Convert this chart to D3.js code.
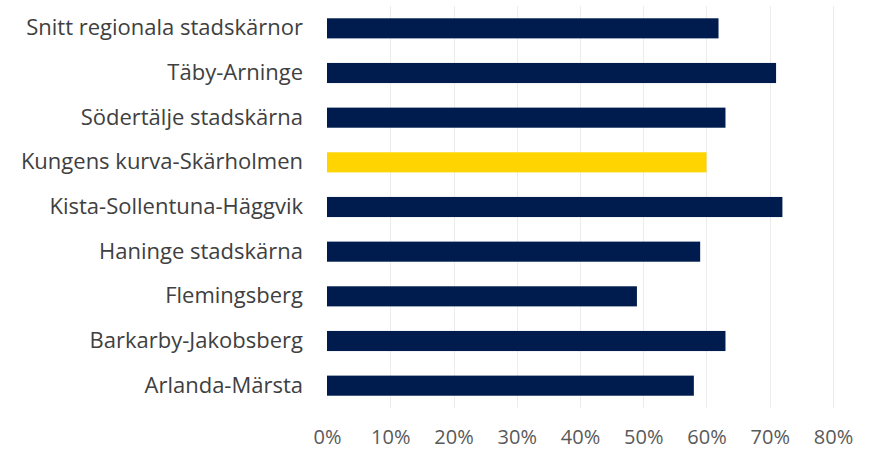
<!DOCTYPE html>
<html>
<head>
<meta charset="utf-8">
<script src="https://cdn.jsdelivr.net/npm/d3@7"></script>
<style>
  body { margin: 0; background: #fff; }
</style>
</head>
<body>
<div id="chart"></div>
<script>
const categories = [
  "Snitt regionala stadskärnor",
  "Täby-Arninge",
  "Södertälje stadskärna",
  "Kungens kurva-Skärholmen",
  "Kista-Sollentuna-Häggvik",
  "Haninge stadskärna",
  "Flemingsberg",
  "Barkarby-Jakobsberg",
  "Arlanda-Märsta"
];
const values = [0.619, 0.71, 0.63, 0.60, 0.72, 0.59, 0.49, 0.63, 0.58];
const highlighted = ["Kungens kurva-Skärholmen"];
const tickValues = [0, 0.1, 0.2, 0.3, 0.4, 0.5, 0.6, 0.7, 0.8];

const width = 876;
const height = 450;
const marginTop = 6;
const marginRight = 43;
const marginBottom = 42;
const marginLeft = 327;
const font = "'Open Sans', 'Liberation Sans', Arial, sans-serif";

const x = d3.scaleLinear()
  .domain([0, 0.8])
  .range([marginLeft, width - marginRight]);

const y = d3.scaleBand()
  .domain(categories)
  .range([marginTop, height - marginBottom])
  .paddingInner(0.55)
  .paddingOuter(0.275);

const svg = d3.create("svg")
  .attr("width", width)
  .attr("height", height)
  .attr("viewBox", [0, 0, width, height])
  .attr("style", `font-family: ${font};`);

// vertical gridlines
svg.append("g")
  .attr("stroke", "#ececec")
  .attr("stroke-width", 1)
  .selectAll("line")
  .data(tickValues.slice(1))
  .join("line")
  .attr("x1", d => Math.round(x(d)) + 0.5)
  .attr("x2", d => Math.round(x(d)) + 0.5)
  .attr("y1", marginTop)
  .attr("y2", height - marginBottom);

// bars
svg.append("g")
  .selectAll("rect")
  .data(categories)
  .join("rect")
  .attr("x", x(0))
  .attr("y", d => y(d))
  .attr("width", (d, i) => x(values[i]) - x(0))
  .attr("height", y.bandwidth())
  .attr("fill", d => highlighted.includes(d) ? "#ffd400" : "#001c4e");

// category labels
svg.append("g")
  .call(d3.axisLeft(y).tickSize(0).tickPadding(24))
  .attr("transform", `translate(${x(0)},0)`)
  .call(g => g.select(".domain").remove())
  .call(g => g.selectAll("text")
    .attr("fill", "#404040")
    .attr("font-size", 22)
    .attr("font-family", font));

// x axis tick labels
svg.append("g")
  .attr("transform", `translate(0,${height - marginBottom})`)
  .call(d3.axisBottom(x).tickValues(tickValues).tickFormat(d3.format(".0%")).tickSize(0).tickPadding(22))
  .call(g => g.select(".domain").remove())
  .call(g => g.selectAll("text")
    .attr("fill", "#595959")
    .attr("font-size", 20)
    .attr("font-family", font));

document.getElementById("chart").appendChild(svg.node());
</script>
</body>
</html>
